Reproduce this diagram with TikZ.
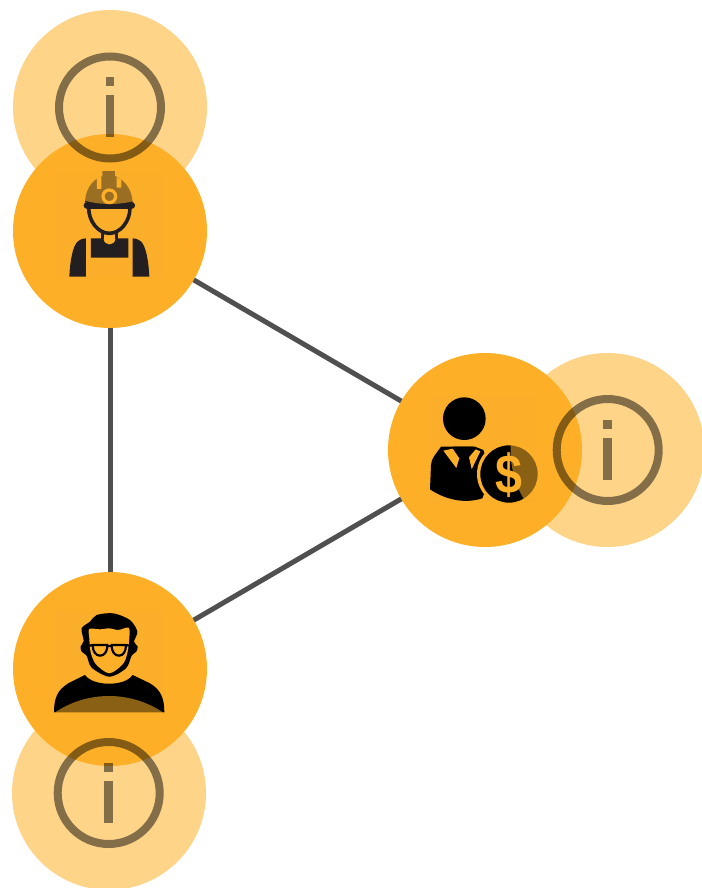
\documentclass[tikz,border=0pt]{standalone}
\usepackage{fontspec}
\setmainfont{Liberation Sans}
\usepackage{xcolor}
\definecolor{discorange}{HTML}{FDB027}
\definecolor{backorange}{HTML}{FAAE2A}
\definecolor{linkgrey}{HTML}{505050}
\definecolor{workerblack}{HTML}{231F20}
\tikzset{
  maindisc/.style={circle, fill=discorange, minimum size=194pt, inner sep=0pt, outer sep=0pt},
  infodisc/.style={circle, fill=discorange, fill opacity=0.55, minimum size=194pt, inner sep=0pt},
  inforing/.style={circle, draw=black, draw opacity=0.48, line width=8pt, minimum size=102pt, inner sep=0pt},
  link/.style={color=linkgrey, line width=5pt},
  iconback/.style={fill=backorange},
  pics/infomark/.style={code={
    \fill [black, opacity=0.48] (-4.3, -30) rectangle (4.3, -21);
    \fill [black, opacity=0.48] (-4.3, -12.5) rectangle (4.3, 29.8);
  }}
}

\begin{document}
\begin{tikzpicture}[x=1pt, y=-1pt]
\useasboundingbox (0, 0) rectangle (701, 888);

\node [maindisc] (worker) at (110, 231) {};
\node [maindisc] (manager) at (485, 450) {};
\node [maindisc] (person) at (110, 669) {};

\draw [link] (worker) -- (manager);
\draw [link] (manager) -- (person);
\draw [link] (worker) -- (person);

\fill [iconback] (55, 172) rectangle (163, 278);
\fill [iconback] (430, 395) rectangle (538, 503);
\fill [iconback] (54, 610) rectangle (164, 713);

\begin{scope}[shift={(60, 165)}, x=0.3333pt, y=-0.3333pt]
\fill [workerblack] (75, 112) .. controls (76, 75) and (95, 45) .. (127, 33) -- (127, 18) -- (165, 18) -- (165, 33) .. controls (195, 45) and (216, 75) .. (218, 112) -- cycle;
\fill [discorange] (111, 40) -- (124, 33) -- (124, 72) -- (111, 72) -- cycle;
\fill [discorange] (170, 36) -- (184, 44) -- (184, 68) -- (170, 68) -- cycle;
\draw [workerblack, line width=7.5pt, line cap=round] (82, 121) -- (214, 121);
\draw [discorange, line width=3.2pt] (148, 94) circle (19);
\draw [workerblack, line width=3.6pt] (86, 128) .. controls (86, 170) and (115, 205) .. (148, 205) .. controls (181, 205) and (210, 170) .. (210, 128);
\draw [workerblack, line width=3pt] (127, 196) -- (127, 222);
\draw [workerblack, line width=3pt] (170, 196) -- (170, 222);
\fill [workerblack] (93, 220) -- (130, 220) .. controls (132, 245) and (165, 245) .. (167, 220) -- (205, 220) -- (205, 278) -- (93, 278) -- cycle;
\fill [workerblack] (28, 335) .. controls (30, 290) and (38, 240) .. (55, 228) .. controls (62, 222) and (70, 220) .. (78, 220) -- (78, 335) -- cycle;
\fill [workerblack] (268, 335) .. controls (266, 290) and (258, 240) .. (241, 228) .. controls (234, 222) and (226, 220) .. (218, 220) -- (218, 335) -- cycle;
\end{scope}

\begin{scope}[shift={(425, 390)}, x=0.3333pt, y=-0.3333pt]
\fill (118, 86) circle (64);
\fill (48, 170) .. controls (35, 190) and (18, 205) .. (18, 225) -- (15, 298) .. controls (50, 322) and (110, 345) .. (172, 325) -- (200, 250) -- (175, 180) -- (150, 170) -- (85, 170) -- cycle;
\fill [discorange] (55, 182) -- (83, 176) -- (103, 205) -- (94, 234) -- cycle;
\fill [discorange] (152, 178) -- (166, 184) -- (140, 238) -- (132, 202) -- cycle;
\fill (85, 170) -- (146, 170) -- (130, 200) -- (141, 245) -- (118, 270) -- (95, 245) -- (106, 200) -- cycle;
\fill [discorange] (252, 252) circle (96);
\fill (252, 252) circle (86);
\node [text=discorange, font=\bfseries\fontsize{55}{55}\selectfont, xscale=0.88, inner sep=0pt] (dollar) at (252, 254) {\$};
\end{scope}

\begin{scope}[shift={(50, 605)}, x=0.3333pt, y=-0.3333pt]
\fill plot [smooth cycle, tension=0.5] coordinates {(178, 215) (125, 188) (110, 152) (95, 140) (92, 124) (101, 108) (95, 70) (120, 50) (140, 30) (190, 25) (240, 45) (262, 80) (252, 110) (263, 124) (259, 140) (245, 152) (228, 190)};
\fill [discorange] plot [smooth cycle, tension=0.5] coordinates {(178, 205) (138, 178) (122, 142) (118, 100) (118, 72) (150, 73) (178, 70) (205, 75) (236, 68) (238, 100) (232, 145) (218, 178)};
\draw [line width=2.2pt] (118, 122) -- (128, 120) -- (172, 120) .. controls (172, 142) and (162, 152) .. (150, 152) .. controls (138, 152) and (128, 140) .. (128, 120);
\draw [line width=2.2pt] (238, 122) -- (228, 120) -- (185, 120) .. controls (185, 142) and (195, 152) .. (207, 152) .. controls (219, 152) and (228, 140) .. (228, 120);
\draw [line width=2.2pt] (172, 124) -- (185, 124);
\fill (12, 322) .. controls (12, 280) and (22, 255) .. (55, 235) -- (105, 210) .. controls (130, 245) and (225, 245) .. (248, 210) -- (300, 235) .. controls (333, 255) and (343, 280) .. (343, 322) -- cycle;
\end{scope}

\node [infodisc] (infotop) at (110, 107) {};
\node [infodisc] (inforight) at (607.5, 450) {};
\node [infodisc] (infobottom) at (109, 793) {};

\node [inforing] (ringtop) at (110, 107.5) {};
\node [inforing] (ringright) at (607.7, 450) {};
\node [inforing] (ringbottom) at (108.7, 793) {};
\pic at (ringtop.center) {infomark};
\pic at (ringright.center) {infomark};
\pic at (ringbottom.center) {infomark};
\end{tikzpicture}
\end{document}
